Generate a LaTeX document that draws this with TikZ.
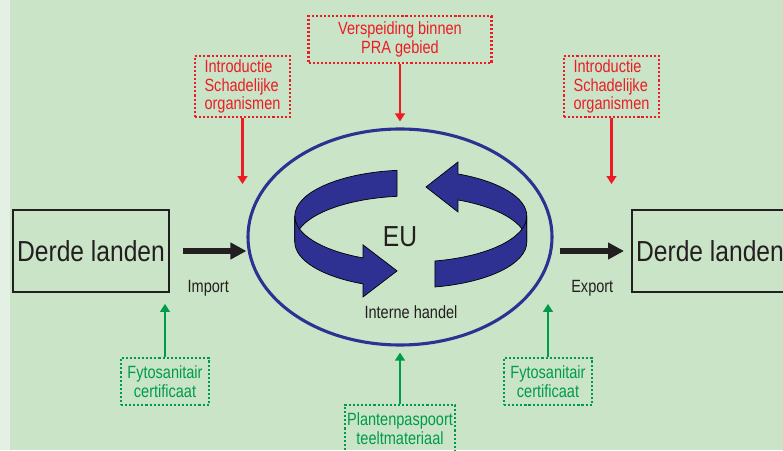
\documentclass[tikz,border=0pt]{standalone}
\usepackage{fontspec}
\setmainfont{Liberation Sans}[FakeStretch=0.85]
\newfontfamily\boxfont{Liberation Sans}[FakeStretch=0.82]
\usetikzlibrary{positioning, calc, arrows.meta, shapes.geometric}

\definecolor{bggreen}{RGB}{201,228,199}
\definecolor{stripgreen}{RGB}{228,240,228}
\definecolor{pestred}{RGB}{237,28,36}
\definecolor{certgreen}{RGB}{0,155,72}
\definecolor{eublue}{RGB}{46,49,146}
\definecolor{boxblack}{RGB}{35,31,32}

\tikzset{
  land/.style={draw=boxblack, line width=1.4pt, minimum width=3.9cm, minimum height=2.05cm, inner sep=0, text=boxblack, font=\fontsize{20.6pt}{24pt}\selectfont},
  pest/.style={draw=pestred, text=pestred, line width=1.6pt, dash pattern=on 1.5pt off 1.4pt, inner sep=0, align=center, font=\boxfont\fontsize{12.6pt}{13.2pt}\selectfont},
  cert/.style={pest, draw=certgreen, text=certgreen},
  trade/.style={boxblack, line width=3.6pt, -{Triangle[length=4mm, width=4mm]}},
  pestarrow/.style={pestred, line width=1.6pt, -{Triangle[length=2mm, width=2.4mm]}},
  certarrow/.style={pestarrow, certgreen},
  ribbon/.style={fill=eublue, draw=black, line width=0.5pt},
  label text/.style={text=boxblack, font=\boxfont\fontsize{12.6pt}{13.2pt}\selectfont}
}

\begin{document}
\begin{tikzpicture}
  \useasboundingbox (0,0) rectangle (19.575,11.25);
  \clip (0,0) rectangle (19.575,11.25);
  \fill[bggreen] (0,0) rectangle (19.575,11.25);
  \fill[stripgreen] (0,0) rectangle (0.25,11.25);

  \node[land] (left land) at (2.275,4.975) {Derde landen};
  \node[land] (right land) at (17.75,4.975) {Derde landen};

  \node[ellipse, draw=eublue, line width=2.2pt, minimum width=7.6cm, minimum height=5.4cm, inner sep=0, text=boxblack, font=\fontsize{20.6pt}{24pt}\selectfont] (eu) at (10,5.325) {EU};
  \node[label text] (intern) at (10.275,3.45) {Interne handel};

  % turning arrows
  \coordinate (ring) at (10.27,5.85);
  \path[ribbon] (ring) ++(0:2.9 and 1.15) arc[start angle=0, end angle=66, x radius=2.9, y radius=1.15]
    -- ++(0,0.3) -- ++(-0.8,-0.625) -- ++(0.8,-0.625) -- ++(0,0.3)
    arc[start angle=66, end angle=0, x radius=2.9, y radius=1.15] -- cycle;
  \path[ribbon] (ring) ++(96.8:2.9 and 1.15) arc[start angle=96.8, end angle=180, x radius=2.9, y radius=1.15]
    -- ++(0,-0.65) arc[start angle=180, end angle=96.8, x radius=2.9, y radius=1.15] -- cycle;
  \path[ribbon] (ring) ++(180:2.9 and 1.15) arc[start angle=180, end angle=245.7, x radius=2.9, y radius=1.15]
    -- ++(0,0.325) -- ++(0.85,-0.65) -- ++(-0.85,-0.65) -- ++(0,0.325)
    arc[start angle=245.7, end angle=180, x radius=2.9, y radius=1.15] -- cycle;
  \path[ribbon] (ring) ++(282:2.9 and 1.15) arc[start angle=282, end angle=360, x radius=2.9, y radius=1.15]
    -- ++(0,-0.65) arc[start angle=360, end angle=282, x radius=2.9, y radius=1.15] -- cycle;

  \draw[trade, shorten <=0.325cm] (left land.east) -- (left land.east -| eu.west)
    node[midway, below=0.56cm, label text] (import) {Import};
  \draw[trade, shorten <=0.15cm, shorten >=0.175cm] (right land.west -| eu.east) -- (right land.west)
    node[midway, below=0.56cm, label text] (export) {Export};

  \node[pest, minimum width=2.375cm, minimum height=1.525cm, align=left] (intro left) at (6.0625,9.0875) {Introductie\\Schadelijke\\organismen};
  \node[pest, minimum width=2.375cm, minimum height=1.525cm, align=left] (intro right) at (15.2875,9.0875) {Introductie\\Schadelijke\\organismen};
  \node[pest, minimum width=4.575cm, minimum height=1.175cm] (spread) at (10,10.2625) {Verspeiding binnen\\PRA gebied};

  \node[cert, minimum width=2.2cm, minimum height=1.175cm] (cert left) at (4.125,1.7125) {Fytosanitair\\certificaat};
  \node[cert, minimum width=2.2cm, minimum height=1.175cm] (cert right) at (13.7,1.7125) {Fytosanitair\\certificaat};
  \node[cert, minimum width=2.75cm, minimum height=1.175cm] (passport) at (10,0.5375) {Plantenpaspoort\\teeltmateriaal};

  \coordinate[below=1.65cm of intro left.south] (entry left);
  \coordinate[below=1.65cm of intro right.south] (entry right);
  \coordinate[above=1.325cm of cert left.north] (check import);
  \coordinate[above=1.325cm of cert right.north] (check export);

  \draw[pestarrow] (intro left.south) -- (entry left);
  \draw[pestarrow] (intro right.south) -- (entry right);
  \draw[pestarrow, shorten >=0.15cm] (spread) -- (eu);
  \draw[certarrow] (cert left.north) -- (check import);
  \draw[certarrow] (cert right.north) -- (check export);
  \draw[certarrow, shorten >=0.15cm] (passport) -- (eu);
\end{tikzpicture}
\end{document}
